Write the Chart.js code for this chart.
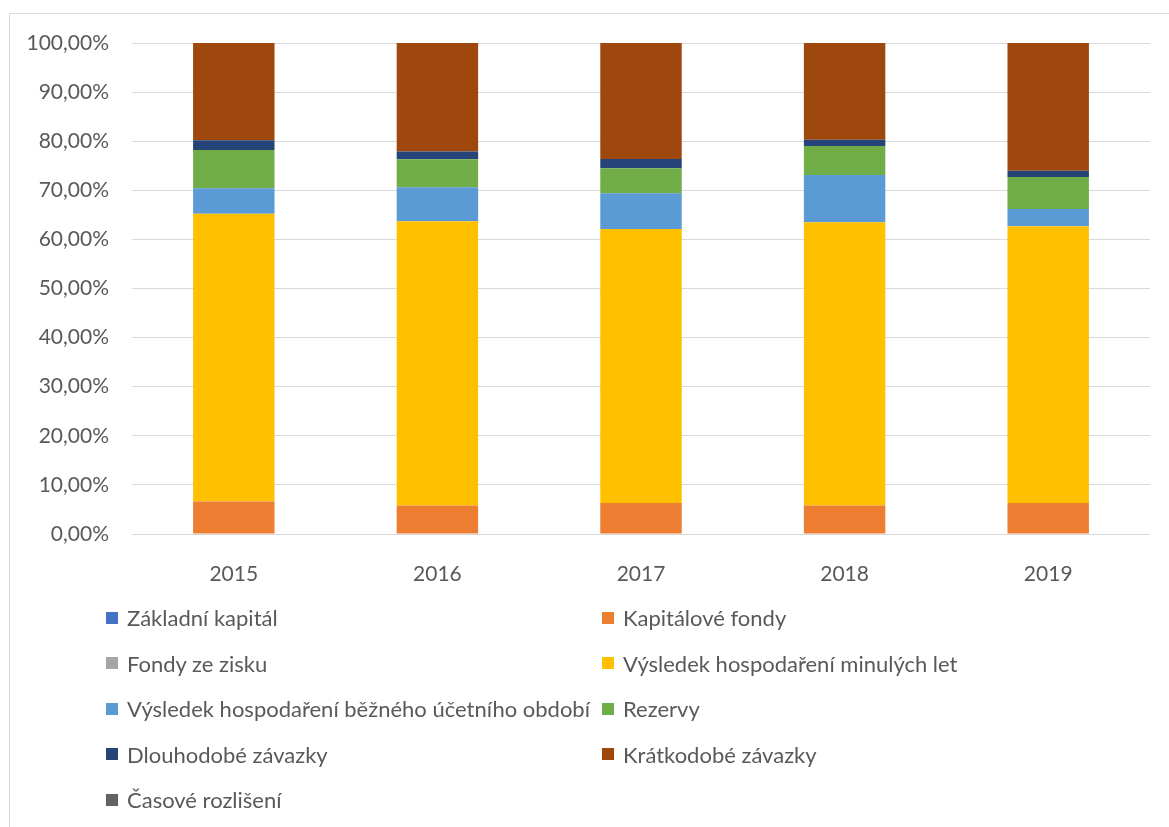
<!DOCTYPE html>
<html lang="cs">
<head>
<meta charset="UTF-8">
<title>Struktura pasiv 2015–2019</title>
<script src="https://cdn.jsdelivr.net/npm/chart.js"></script>
<style>
  body { margin: 0; background: #fff; font-family: Lato, "Liberation Sans", sans-serif; }
  #frame {
    position: absolute; left: 9px; top: 13px; width: 1200px; height: 900px;
    border: 1px solid #d9d9d9; box-sizing: border-box;
  }
  #wrap { position: absolute; left: 0; top: 0; width: 1169px; height: 600px; }
  #legend {
    position: absolute; left: 106px; top: 595px;
    display: grid; grid-template-columns: 496px 400px; grid-auto-rows: 45.5px;
    color: #595959; font-size: 22px;
  }
  #legend div { display: flex; align-items: center; white-space: nowrap; }
  #legend span.box { width: 12px; height: 12px; margin-right: 9px; flex: none; }
</style>
</head>
<body>
<div id="frame"></div>
<div id="wrap"><canvas id="pasivaChart"></canvas></div>
<div id="legend"></div>

<script>
const years = ['2015', '2016', '2017', '2018', '2019'];

// podíl jednotlivých položek na celkových pasivech (%)
const zakladniKapital   = [0.1, 0.1, 0.1, 0.1, 0.1];
const kapitaloveFondy   = [6.5, 5.7, 6.2, 5.7, 6.2];
const fondyZeZisku      = [0.0, 0.0, 0.0, 0.0, 0.0];
const vhMinulychLet     = [58.6, 57.9, 55.8, 57.7, 56.4];
const vhBeznehoObdobi   = [5.2, 6.9, 7.3, 9.6, 3.5];
const rezervy           = [7.8, 5.7, 5.1, 5.9, 6.5];
const dlouhodobeZavazky = [2.0, 1.6, 1.9, 1.3, 1.3];
const kratkodobeZavazky = [19.8, 22.1, 23.6, 19.7, 26.0];
const casoveRozliseni   = [0.0, 0.0, 0.0, 0.0, 0.0];

const yTicks = [0, 10, 20, 30, 40, 50, 60, 70, 80, 90, 100];

const series = [
  ['Základní kapitál', zakladniKapital, '#4472C4'],
  ['Kapitálové fondy', kapitaloveFondy, '#ED7D31'],
  ['Fondy ze zisku', fondyZeZisku, '#A5A5A5'],
  ['Výsledek hospodaření minulých let', vhMinulychLet, '#FFC000'],
  ['Výsledek hospodaření běžného účetního období', vhBeznehoObdobi, '#5B9BD5'],
  ['Rezervy', rezervy, '#70AD47'],
  ['Dlouhodobé závazky', dlouhodobeZavazky, '#264478'],
  ['Krátkodobé závazky', kratkodobeZavazky, '#9E480E'],
  ['Časové rozlišení', casoveRozliseni, '#636363'],
];

const font = { family: 'Lato, "Liberation Sans", sans-serif', size: 21 };

const ctx = document.getElementById('pasivaChart').getContext('2d');
const chart = new Chart(ctx, {
  type: 'bar',
  data: {
    labels: years,
    datasets: series.map(([label, data, color]) => ({
      label: label,
      data: data,
      backgroundColor: color,
      borderWidth: 0,
      categoryPercentage: 1,
      barPercentage: 0.4,
    })),
  },
  options: {
    responsive: true,
    maintainAspectRatio: false,
    animation: false,
    layout: { padding: { top: 43, right: 19, left: 0, bottom: 0 } },
    plugins: { legend: { display: false }, tooltip: { enabled: false } },
    scales: {
      x: {
        stacked: true,
        grid: { display: false },
        border: { display: false },
        ticks: { color: '#595959', font: font, padding: 20 },
        afterFit: (scale) => { scale.height = 66; },
      },
      y: {
        stacked: true,
        min: 0,
        max: 100,
        afterBuildTicks: (scale) => { scale.ticks = yTicks.map(v => ({ value: v })); },
        grid: { color: '#d9d9d9', lineWidth: 1, drawTicks: false },
        border: { display: false },
        ticks: {
          color: '#595959',
          font: font,
          padding: 23,
          callback: (v) => v.toFixed(2).replace('.', ',') + '%',
        },
        afterFit: (scale) => { scale.width = 132; },
      },
    },
  },
});

// legenda ve dvou sloupcích
const legend = document.getElementById('legend');
chart.data.datasets.forEach((ds) => {
  const item = document.createElement('div');
  const box = document.createElement('span');
  box.className = 'box';
  box.style.background = ds.backgroundColor;
  item.appendChild(box);
  item.appendChild(document.createTextNode(ds.label));
  legend.appendChild(item);
});
</script>
</body>
</html>
